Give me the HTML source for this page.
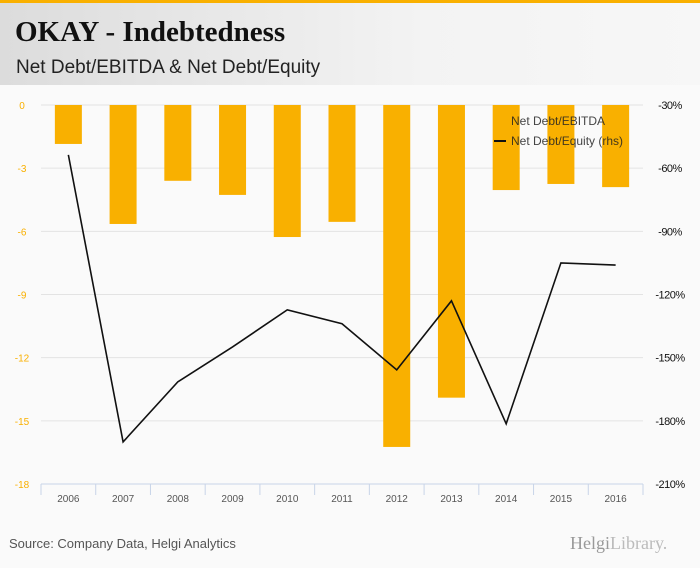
<!DOCTYPE html>
<html><head><meta charset="utf-8"><style>
body{margin:0;width:700px;height:568px;overflow:hidden;background:#fafafa;font-family:"Liberation Sans",sans-serif}
#hdr{position:absolute;left:0;top:0;width:700px;height:85px;background:linear-gradient(90deg,#dcdcdc,#f3f3f3 60%,#f7f7f7);border-top:3px solid #f9b000;box-sizing:border-box}
#title{position:absolute;left:15px;top:13px;font:bold 29px "Liberation Serif",serif;color:#111}
#sub{position:absolute;left:16px;top:54px;font-size:19px;color:#222}
#src{position:absolute;left:9px;top:536px;font-size:13px;color:#555}
#logo{position:absolute;left:570px;top:533px;font:18px "Liberation Serif",serif;color:#999}
</style></head><body>
<div id="hdr"><div id="title">OKAY - Indebtedness</div><div id="sub">Net Debt/EBITDA &amp; Net Debt/Equity</div></div>
<svg id="chart" width="700" height="568" style="position:absolute;left:0;top:0"></svg>
<div id="src">Source: Company Data, Helgi Analytics</div>
<div id="logo">Helgi<span style="color:#bbb">Library.</span></div>
<script>
const categories=["2006","2007","2008","2009","2010","2011","2012","2013","2014","2015","2016"];
const ebitdaValues=[-1.85,-5.65,-3.6,-4.27,-6.27,-5.55,-16.24,-13.9,-4.04,-3.75,-3.9];
const equityValues=[-53.7,-190,-161.5,-144.9,-127.3,-133.9,-155.8,-123,-181.4,-105,-106];
const leftTicks=[0,-3,-6,-9,-12,-15,-18];
const rightTicks=[-30,-60,-90,-120,-150,-180,-210];
const NS="http://www.w3.org/2000/svg",svg=document.getElementById('chart');
const x0=41,x1=643,yTop=105,yBot=484;
const bw=(x1-x0)/categories.length;
const xc=i=>x0+bw*(i+0.5);
const yL=v=>yTop+(0-v)/18*(yBot-yTop);
const yR=v=>yTop+(-30-v)/180*(yBot-yTop);
function el(t,a,txt){const e=document.createElementNS(NS,t);for(const k in a)e.setAttribute(k,a[k]);if(txt!=null)e.textContent=txt;svg.appendChild(e);return e;}
leftTicks.forEach((v,i)=>{
 const g=el('line',{x1:x0,x2:x1,y1:yL(v),y2:yL(v),stroke:'#e3e3e3'});
 
 
 const t=el('text',{x:22,y:yL(v)+4,'text-anchor':'middle','font-size':10,fill:'#f9b000'},v);
 
 
});
rightTicks.forEach(v=>{
 const t=el('text',{x:670,y:yR(v)+4,'text-anchor':'middle','font-size':11,fill:'#111','letter-spacing':'-0.5'},v+'%');
 
 
});
ebitdaValues.forEach((v,i)=>{
 const b=el('rect',{x:xc(i)-13.5,y:yL(0),width:27,height:yL(v)-yL(0),fill:'#f9b000'});
 
 
});
const ax=el('line',{x1:x0,x2:x1,y1:yBot,y2:yBot,stroke:'#c8d4e8'});


for(let i=0;i<=categories.length;i++){const tk=el('line',{x1:x0+bw*i,x2:x0+bw*i,y1:yBot,y2:yBot+11,stroke:'#c8d4e8'});
 
 }
categories.forEach((c,i)=>{const t=el('text',{x:xc(i),y:502,'text-anchor':'middle','font-size':10,fill:'#555'},c);
 
 });
const ln=el('polyline',{points:equityValues.map((v,i)=>xc(i)+','+yR(v)).join(' '),fill:'none',stroke:'#111','stroke-width':1.6});


const l1=el('text',{x:511,y:125,'font-size':12,fill:'#222','fill-opacity':0.85},'Net Debt/EBITDA');


const l2s=el('line',{x1:494,x2:506,y1:141,y2:141,stroke:'#111','stroke-width':2});


const l2=el('text',{x:511,y:145,'font-size':12,fill:'#222','fill-opacity':0.85},'Net Debt/Equity (rhs)');


</script>
</body></html>
